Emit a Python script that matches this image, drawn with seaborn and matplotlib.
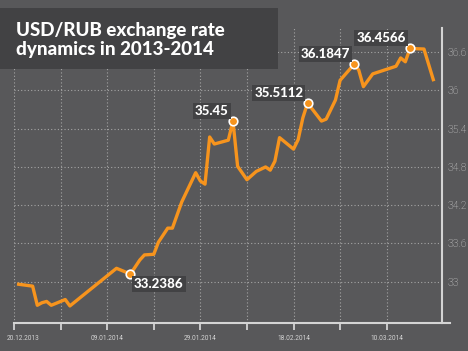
import pandas as pd
import seaborn as sns
import matplotlib.dates as mdates
import matplotlib.transforms as mtransforms
from matplotlib import pyplot as plt
from matplotlib.patches import Rectangle

BG = '#58585a'
DARK = '#424244'
ORANGE = '#f7941d'
LIGHT = '#d4d4d4'

# rate values
dates = ['2013-12-21', '2013-12-24', '2013-12-25', '2013-12-26', '2013-12-27',
         '2013-12-28', '2013-12-31', '2014-01-01', '2014-01-11', '2014-01-14',
         '2014-01-16', '2014-01-17', '2014-01-19', '2014-01-20', '2014-01-22',
         '2014-01-23', '2014-01-25', '2014-01-28', '2014-01-29', '2014-01-30',
         '2014-01-31', '2014-02-01', '2014-02-04', '2014-02-05', '2014-02-06',
         '2014-02-08', '2014-02-10', '2014-02-12', '2014-02-13', '2014-02-14',
         '2014-02-15', '2014-02-18', '2014-02-19', '2014-02-20', '2014-02-21',
         '2014-02-22', '2014-02-24', '2014-02-25', '2014-02-27', '2014-02-28',
         '2014-03-03', '2014-03-04', '2014-03-05', '2014-03-07', '2014-03-12',
         '2014-03-13', '2014-03-14', '2014-03-15', '2014-03-18', '2014-03-20']
rates = [32.96, 32.93, 32.63, 32.67, 32.69,
         32.63, 32.72, 32.62, 33.21, 33.12,
         33.34, 33.42, 33.43, 33.62, 33.84,
         33.84, 34.25, 34.71, 34.58, 34.53,
         35.27, 35.16, 35.22, 35.52, 34.81,
         34.60, 34.73, 34.80, 34.75, 34.89,
         35.26, 35.08, 35.23, 35.57, 35.80,
         35.71, 35.52, 35.55, 35.85, 36.16,
         36.41, 36.32, 36.06, 36.26, 36.38,
         36.51, 36.45, 36.66, 36.65, 36.17]

# highlighted points and their captions
point_dates = ['2014-01-14', '2014-02-05', '2014-02-21', '2014-03-03', '2014-03-15']
point_labels = ['33.2386', '35.45', '35.5112', '36.1847', '36.4566']

tick_dates = pd.date_range('2013-12-20', '2014-03-10', freq='10D')
tick_labels = ['20.12.2013', '', '09.01.2014', '', '29.01.2014', '',
               '18.02.2014', '', '10.03.2014']
y_ticks = [33, 33.6, 34.2, 34.8, 35.4, 36, 36.6]
y_labels = ['33', '33.6', '34.2', '34.8', '35.4', '36', '36.6']

df = pd.DataFrame({'date': pd.to_datetime(dates), 'rate': rates})
pts = df[df['date'].isin(pd.to_datetime(point_dates))].copy()
pts['label'] = point_labels

fig = plt.figure(figsize=(4.68, 3.51), dpi=100, facecolor=BG)
ax = fig.add_axes([14 / 468, 28 / 351, 428 / 468, 295 / 351])
ax.set_facecolor(BG)

sns.lineplot(data=df, x='date', y='rate', color=ORANGE, linewidth=2.4,
             ax=ax, zorder=3)
sns.scatterplot(data=pts, x='date', y='rate', color=ORANGE, edgecolor='white',
                linewidth=1.2, s=38, zorder=4, ax=ax)

start = pd.Timestamp('2013-12-20')
ax.set_xlim(start, start + pd.Timedelta(days=91.87))
ax.set_ylim(32.352, 36.98)

ax.set_xticks(tick_dates)
ax.set_xticklabels(tick_labels)
ax.set_yticks(y_ticks)
ax.set_yticklabels(y_labels)
ax.yaxis.tick_right()
ax.set_xlabel('')
ax.set_ylabel('')

ax.grid(True, color='#a5a5a5', linestyle=(0, (1, 2)), linewidth=0.8)
ax.set_axisbelow(True)

for side in ['left', 'top']:
    ax.spines[side].set_visible(False)
for side in ['right', 'bottom']:
    ax.spines[side].set_color(LIGHT)
    ax.spines[side].set_linewidth(1.5)
ax.spines['bottom'].set_bounds(mdates.date2num(start),
                               mdates.date2num(start + pd.Timedelta(days=93.6)))

ax.tick_params(axis='x', direction='out', length=5, width=1.3, color=LIGHT,
               labelsize=4.7, labelcolor=LIGHT, pad=4,
               labelfontfamily='Roboto')
ax.tick_params(axis='y', length=0, labelsize=7.5, labelcolor=LIGHT, pad=4,
               labelfontfamily='Roboto')
for lbl in ax.get_yticklabels():
    lbl.set_fontweight('light')

# first date label sits to the right of its tick so it stays inside
first = ax.get_xticklabels()[0]
first.set_horizontalalignment('left')
first.set_transform(first.get_transform() + mtransforms.ScaledTranslation(
    -7 / 100, 0, fig.dpi_scale_trans))

# captions next to the highlighted points
for i, row in enumerate(pts.itertuples()):
    if i == 0:
        off, ha, va = (2.6, -3.1), 'left', 'top'
    else:
        off, ha, va = (-3, 3), 'right', 'bottom'
    ax.annotate(row.label, xy=(row.date, row.rate), xytext=off,
                textcoords='offset points', ha=ha, va=va, fontsize=9.5,
                fontweight='black', color='white', family='Lato', zorder=5,
                bbox=dict(boxstyle='square,pad=0.15', fc=DARK, ec='none'))

# title band
fig.add_artist(Rectangle((0, 282 / 351), 278 / 468, 61 / 351,
                         transform=fig.transFigure, facecolor=DARK,
                         edgecolor='none', zorder=5))
fig.text(16 / 468, 1 - 22 / 351, 'USD/RUB exchange rate\ndynamics in 2013-2014',
         color='white', fontsize=13.5, fontweight='black', family='Lato',
         ha='left', va='top', linespacing=1.15, zorder=6)

plt.savefig('out.png', dpi=100, facecolor=BG)
plt.close()
